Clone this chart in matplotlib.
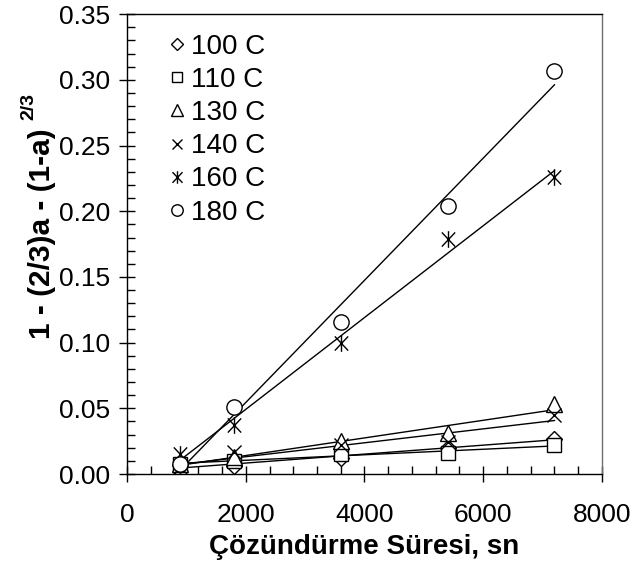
import matplotlib
matplotlib.use("Agg")
import matplotlib.pyplot as plt
import numpy as np
from matplotlib.path import Path
from matplotlib.ticker import MultipleLocator

plt.rcParams['font.family'] = ['Liberation Sans', 'DejaVu Sans']

# dissolution time, s
times = [900, 1800, 3600, 5400, 7200]
labels = ['100 C', '110 C', '130 C', '140 C', '160 C', '180 C']
y100 = [0.007, 0.006, 0.012, 0.020, 0.027]
y110 = [0.008, 0.010, 0.015, 0.016, 0.022]
y130 = [0.008, 0.013, 0.025, 0.031, 0.053]
y140 = [0.005, 0.017, 0.022, 0.024, 0.045]
y160 = [0.015, 0.037, 0.100, 0.179, 0.226]
y180 = [0.008, 0.051, 0.116, 0.204, 0.307]

star = Path([(0, -1), (0, 1), (-0.8, -0.85), (0.8, 0.85), (-0.8, 0.85), (0.8, -0.85)],
            [Path.MOVETO, Path.LINETO, Path.MOVETO, Path.LINETO, Path.MOVETO, Path.LINETO])

series = [y100, y110, y130, y140, y160, y180]
markers = ['D', 's', '^', 'x', star, 'o']
sizes = [8, 10, 11, 10, 12, 11]

fig = plt.figure(figsize=(6.37, 5.67), dpi=100)
ax = fig.add_axes([0.1994, 0.164, 0.7456, 0.811])

x = np.array(times)
xs = np.array([x.min(), x.max()])
# regression lines first
for ys in series:
    k, b = np.polyfit(x, ys, 1)
    ax.plot(xs, k * xs + b, color='black', lw=1.0, zorder=2)

for ys, m, s, lab in zip(series, markers, sizes, labels):
    ax.plot(x, ys, linestyle='none', marker=m, ms=s, mfc='white', mec='black',
            mew=1.0, label=lab, zorder=3)

ax.set_xlim(0, 8000)
ax.set_ylim(0, 0.35)
ax.xaxis.set_major_locator(MultipleLocator(2000))
ax.xaxis.set_minor_locator(MultipleLocator(400))
ax.yaxis.set_major_locator(MultipleLocator(0.05))
ax.yaxis.set_minor_locator(MultipleLocator(0.01))
ax.yaxis.set_major_formatter(matplotlib.ticker.FormatStrFormatter('%.2f'))
ax.tick_params(which='major', direction='inout', length=12, width=1, labelsize=19)
ax.tick_params(axis='x', which='major', pad=15)
ax.tick_params(axis='y', which='major', pad=6)
ax.tick_params(which='minor', direction='in', length=6, width=1)
ax.spines['right'].set_color('#707070')
for sp in ax.spines.values():
    sp.set_linewidth(1.0)

ax.set_xlabel('Çözündürme Süresi, sn', fontsize=20, fontweight='bold', labelpad=5)
ax.text(-0.18, 0.522, '1 - (2/3)a - (1-a)', transform=ax.transAxes, rotation=90,
        fontsize=21.5, fontweight='bold', ha='center', va='center')
ax.text(-0.206, 0.80, '2/3', transform=ax.transAxes, rotation=90,
        fontsize=14, fontweight='bold', ha='center', va='center')

leg = ax.legend(loc='upper left', bbox_to_anchor=(0.065, 0.982), frameon=False,
                fontsize=20, handlelength=0.6, handletextpad=0.2, labelspacing=0.26,
                markerscale=0.75, borderaxespad=0)

fig.savefig('out.png', dpi=100)
